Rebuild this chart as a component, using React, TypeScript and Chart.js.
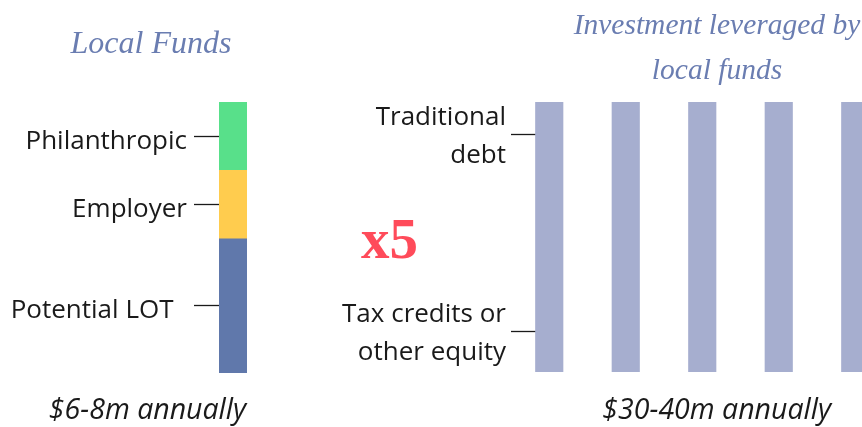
import React, { useEffect, useRef } from 'react';
import { Chart, registerables } from 'chart.js';

Chart.register(...registerables);

// ---- Data ----
const localCategory = ['Local Funds'];
const localSegments = ['Potential LOT', 'Employer', 'Philanthropic'];
const localValues = [1.98, 1.01, 1.01];
const localTickLabels = ['Potential LOT\u00a0\u00a0', 'Employer', 'Philanthropic'];
const localColors = ['#6078AB', '#FFCC4E', '#58E08A'];

const leveragedCategories = ['1', '2', '3', '4', '5'];
const leveragedValues = [100, 100, 100, 100, 100];
const leveragedTickValues = [15, 88];
const leveragedTickLabels = [['Tax credits or', 'other equity'], ['Traditional', 'debt']];
const leveragedColor = '#A6AECF';

const localTitle = 'Local Funds';
const localFooter = '$6-8m annually';
const leveragedTitle = ['Investment leveraged by', 'local funds'];
const leveragedFooter = '$30-40m annually';
const multiplier = 'x5';

// ---- Styles ----
const TITLE_COLOR = '#6A7DB1';
const TEXT_COLOR = '#1a1a1a';
const TITLE_FONT = 'italic 32px "Liberation Serif"';
const TITLE_FONT_R = 'italic 29.5px "Liberation Serif"';
const FOOT_FONT = 'italic 28.5px "Open Sans"';

type TextItem = { text: string; x: number; y: number; font: string; color: string; align: CanvasTextAlign };

function textPlugin(id: string, items: TextItem[], offsetX: number) {
  return {
    id,
    afterDraw(chart: any) {
      const ctx = chart.ctx as CanvasRenderingContext2D;
      ctx.save();
      ctx.textBaseline = 'alphabetic';
      for (const it of items) {
        ctx.font = it.font;
        ctx.fillStyle = it.color;
        ctx.textAlign = it.align;
        ctx.fillText(it.text, it.x - offsetX, it.y);
      }
      ctx.restore();
    },
  };
}

export default function App() {
  const leftRef = useRef<HTMLCanvasElement>(null);
  const rightRef = useRef<HTMLCanvasElement>(null);

  useEffect(() => {
    const total = localValues.reduce((a, b) => a + b, 0);
    const mids: number[] = [];
    let acc = 0;
    for (const v of localValues) {
      mids.push(acc + v / 2);
      acc += v;
    }

    const leftTexts: TextItem[] = [
      { text: localTitle, x: 151, y: 53, font: TITLE_FONT, color: TITLE_COLOR, align: 'center' },
      { text: localFooter, x: 147.5, y: 419, font: FOOT_FONT, color: TEXT_COLOR, align: 'center' },
    ];
    const rightTexts: TextItem[] = [
      { text: leveragedTitle[0], x: 717, y: 33.5, font: TITLE_FONT_R, color: TITLE_COLOR, align: 'center' },
      { text: leveragedTitle[1], x: 717, y: 78.5, font: TITLE_FONT_R, color: TITLE_COLOR, align: 'center' },
      { text: multiplier, x: 361, y: 258, font: 'bold 57px "Liberation Serif"', color: '#FF4B5A', align: 'left' },
      { text: leveragedFooter, x: 716.7, y: 419, font: FOOT_FONT, color: TEXT_COLOR, align: 'center' },
    ];

    const left = new Chart(leftRef.current!, {
      type: 'bar',
      data: {
        labels: localCategory,
        datasets: localSegments.map((s, i) => ({
          label: s,
          data: [localValues[i]],
          backgroundColor: localColors[i],
          borderWidth: 0,
          barPercentage: 1,
          categoryPercentage: 1,
        })),
      },
      options: {
        responsive: false,
        animation: false,
        layout: { padding: { top: 102, bottom: 54, left: 0, right: 53 } },
        plugins: { legend: { display: false }, tooltip: { enabled: false } },
        scales: {
          x: { stacked: true, display: false },
          y: {
            stacked: true,
            min: 0,
            max: total,
            position: 'left',
            afterFit: (s: any) => { s.width = 219; s.paddingTop = 0; s.paddingBottom = 0; },
            afterBuildTicks: (s: any) => { s.ticks = mids.map((v) => ({ value: v })); },
            ticks: {
              autoSkip: false,
              padding: 7,
              labelOffset: 5,
              font: { family: '"Open Sans"', size: 26 },
              color: TEXT_COLOR,
              callback: (_v: any, i: number) => localTickLabels[i],
            },
            grid: { drawOnChartArea: false, drawTicks: true, tickLength: 25, tickColor: TEXT_COLOR, tickWidth: 1.3 },
            border: { display: false },
          },
        },
      } as any,
      plugins: [textPlugin('leftText', leftTexts, 0)],
    });

    const right = new Chart(rightRef.current!, {
      type: 'bar',
      data: {
        labels: leveragedCategories,
        datasets: [
          {
            label: 'Leveraged investment',
            data: leveragedValues,
            backgroundColor: leveragedColor,
            borderWidth: 0,
            barThickness: 27.5,
          },
        ],
      },
      options: {
        responsive: false,
        animation: false,
        layout: { padding: { top: 102, bottom: 55, left: 0, right: 36.5 } },
        plugins: { legend: { display: false }, tooltip: { enabled: false } },
        scales: {
          x: { display: false },
          y: {
            min: 0,
            max: 100,
            position: 'left',
            afterFit: (s: any) => { s.width = 181; s.paddingTop = 0; s.paddingBottom = 0; },
            afterBuildTicks: (s: any) => { s.ticks = leveragedTickValues.map((v) => ({ value: v })); },
            ticks: {
              autoSkip: false,
              padding: 31,
              labelOffset: 2,
              font: { family: '"Open Sans"', size: 26, lineHeight: 1.46 },
              color: TEXT_COLOR,
              callback: (_v: any, i: number) => leveragedTickLabels[i],
            },
            grid: { drawOnChartArea: false, drawTicks: true, tickLength: -26, tickColor: TEXT_COLOR, tickWidth: 1.3 },
            border: { display: false },
          },
        },
      } as any,
      plugins: [textPlugin('rightText', rightTexts, 330)],
    });

    return () => {
      left.destroy();
      right.destroy();
    };
  }, []);

  return (
    <div style={{ position: 'fixed', left: 0, top: 0, width: 862, height: 427, overflow: 'hidden', background: '#fff' }}>
      <canvas ref={leftRef} width={300} height={427} style={{ position: 'absolute', left: 0, top: 0 }} />
      <canvas ref={rightRef} width={600} height={427} style={{ position: 'absolute', left: 330, top: 0 }} />
    </div>
  );
}
